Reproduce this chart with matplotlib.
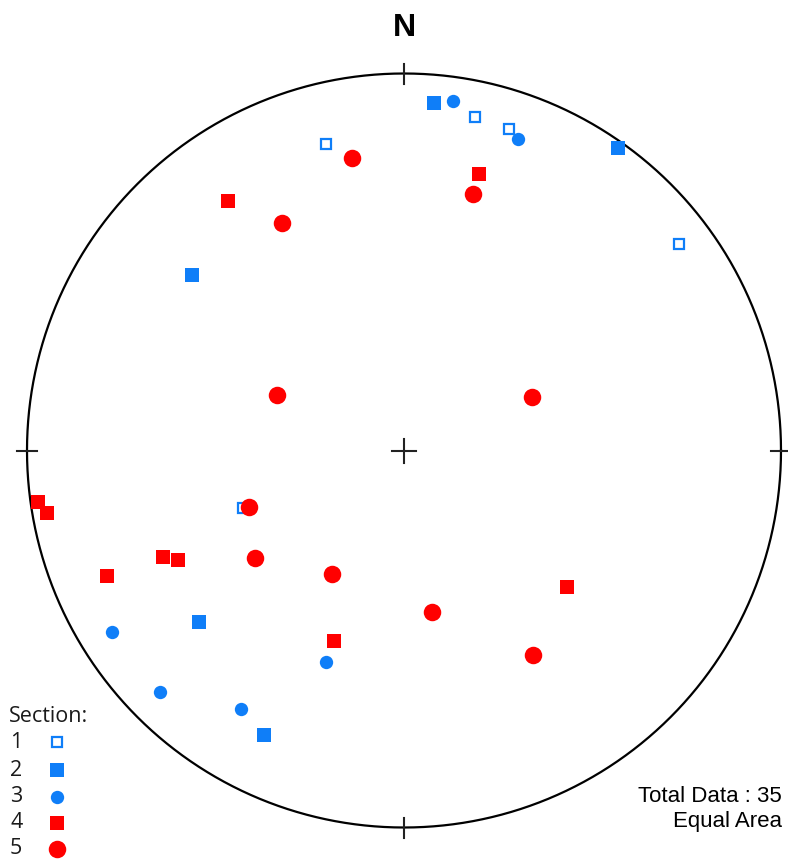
import numpy as np
import matplotlib
matplotlib.use("Agg")
import matplotlib.pyplot as plt

# trend / plunge (degrees) of each measurement, per section
sec1_trend = [345.7, 12.0, 18.1, 53.1, 250.4]
sec1_plunge = [17.2, 10.5, 11.2, 9.7, 52.6]

sec2_trend = [4.9, 35.3, 309.6, 230.1, 206.2]
sec2_plunge = [8.3, 2.0, 27.8, 29.8, 17.0]

sec3_trend = [8.0, 20.1, 238.1, 225.3, 212.2, 200.2]
sec3_plunge = [7.1, 13.0, 9.7, 9.8, 20.0, 40.0]

sec4_trend = [324.8, 15.2, 262.0, 260.1, 247.1, 246.2, 244.1, 200.2, 130.0]
sec4_plunge = [20.1, 25.0, 2.2, 4.4, 15.6, 30.8, 33.8, 45.3, 43.0]

sec5_trend = [349.9, 331.8, 15.1, 293.6, 67.3, 250.0, 234.2, 210.2, 170.2, 147.8]
sec5_plunge = [22.3, 32.1, 30.2, 59.9, 59.8, 54.0, 49.7, 58.9, 54.2, 36.1]

section_labels = ["1", "2", "3", "4", "5"]

blue = "#0f7ef8"
red = "#ff0000"

# (marker, size, face, edge, edge width)
styles = [
    ("s", 7.8, "white", blue, 1.6),
    ("s", 9.4, blue, blue, 0),
    ("o", 9.6, blue, blue, 0),
    ("s", 10.0, red, red, 0),
    ("o", 12.6, red, red, 0),
]

sections = [
    (sec1_trend, sec1_plunge),
    (sec2_trend, sec2_plunge),
    (sec3_trend, sec3_plunge),
    (sec4_trend, sec4_plunge),
    (sec5_trend, sec5_plunge),
]


def equal_area(trend, plunge):
    t = np.radians(np.asarray(trend))
    p = np.radians(np.asarray(plunge))
    r = np.sqrt(2) * np.sin((np.pi / 2 - p) / 2)
    return r * np.sin(t), r * np.cos(t)


W, H = 788, 859
cx, cy, R = 404, 450.5, 377.0


def px(x, y):
    # figure pixel -> data units of the net
    return (x - cx) / R, (cy - y) / R


fig = plt.figure(figsize=(W / 100, H / 100), dpi=100)
ax = fig.add_axes([0, 0, 1, 1])
ax.set_xlim(-cx / R, (W - cx) / R)
ax.set_ylim(-(H - cy) / R, cy / R)
ax.set_aspect("equal")
ax.axis("off")

# primitive circle
th = np.linspace(0, 2 * np.pi, 721)
ax.plot(np.cos(th), np.sin(th), color="black", lw=1.6, zorder=1)

# ticks at N E S W and centre cross
tk = 10 / R
for a in [0, 90, 180, 270]:
    s, c = np.sin(np.radians(a)), np.cos(np.radians(a))
    ax.plot([s * (1 - tk), s * (1 + tk)], [c * (1 - tk), c * (1 + tk)],
            color="#222222", lw=1.5, zorder=1)
cc = 12 / R
ax.plot([-cc, cc], [0, 0], color="#222222", lw=1.5, zorder=1)
ax.plot([0, 0], [-cc, cc], color="#222222", lw=1.5, zorder=1)

for (tr, pl), (mk, ms, fc, ec, mew) in zip(sections, styles):
    x, y = equal_area(tr, pl)
    ax.plot(x, y, linestyle="none", marker=mk, markersize=ms,
            markerfacecolor=fc, markeredgecolor=ec, markeredgewidth=mew,
            zorder=3)

ax.text(*px(404, 28), "N", ha="center", va="center", fontsize=23,
        fontweight="bold", family="Liberation Sans")

total = sum(len(t) for t, _ in sections)
ax.text(*px(782, 797), f"Total Data : {total}", ha="right", va="center",
        fontsize=16, family="Liberation Sans")
ax.text(*px(782, 821), "Equal Area", ha="right", va="center",
        fontsize=16, family="Liberation Sans")

# legend
ax.text(*px(9, 717), "Section:", ha="left", va="center", fontsize=15.5,
        family="Open Sans", color="#1a1a1a")
rows = [742, 770, 797, 823, 849]
for lab, yy, (mk, ms, fc, ec, mew) in zip(section_labels, rows, styles):
    ax.text(*px(10, yy), lab, ha="left", va="center", fontsize=15.5,
            family="Open Sans", color="#1a1a1a")
    lx, ly = px(57, yy)
    ax.plot([lx], [ly], linestyle="none", marker=mk, markersize=ms,
            markerfacecolor=fc, markeredgecolor=ec, markeredgewidth=mew)

fig.savefig("out.png", dpi=100)
